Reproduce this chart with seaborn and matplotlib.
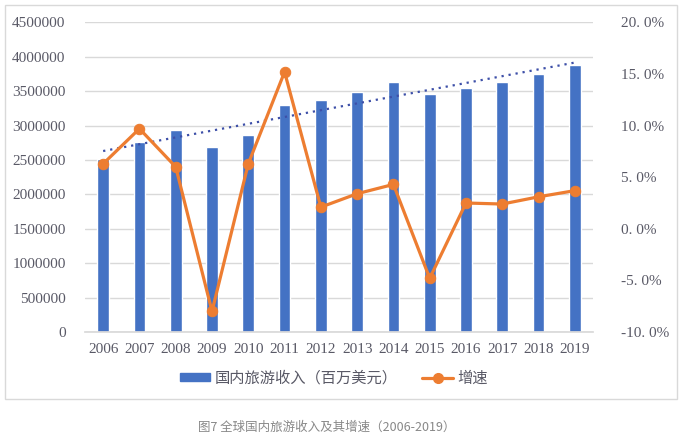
import numpy as np
import pandas as pd
import matplotlib
matplotlib.use("Agg")
import matplotlib.pyplot as plt
from matplotlib.patches import Patch, Rectangle
from matplotlib.lines import Line2D
import matplotlib.ticker as mticker
import seaborn as sns

years = ["2006", "2007", "2008", "2009", "2010", "2011", "2012",
         "2013", "2014", "2015", "2016", "2017", "2018", "2019"]
revenue = [2515000, 2762000, 2932000, 2693000, 2863000, 3299000, 3372000,
           3488000, 3638000, 3459000, 3542000, 3634000, 3746000, 3885000]
growth = [6.3, 9.7, 6.0, -8.0, 6.3, 15.2, 2.1,
          3.4, 4.3, -4.8, 2.5, 2.4, 3.1, 3.7]
left_ticks = [0, 500000, 1000000, 1500000, 2000000, 2500000, 3000000,
              3500000, 4000000, 4500000]
right_ticks = [-10, -5, 0, 5, 10, 15, 20]
bar_label = "国内旅游收入（百万美元）"
line_label = "增速"
caption = "图7 全球国内旅游收入及其增速（2006-2019）"

BLUE = "#4472C4"
ORANGE = "#ED7D31"
TEXT = "#595966"

sns.set_theme(style="white")
plt.rcParams["font.family"] = ["Noto Sans CJK SC", "DejaVu Sans"]

df = pd.DataFrame({"year": years, "revenue": revenue, "growth": growth,
                   "pos": np.arange(len(years))})

fig = plt.figure(figsize=(6.82, 4.41), dpi=100)
fig.patch.set_facecolor("white")
# outer light frame
fig.add_artist(Rectangle((5 / 682, 1 - 399 / 441), 672 / 682, 394 / 441,
                         transform=fig.transFigure, fill=False,
                         edgecolor="#D9D9D9", linewidth=1.0))

ax = fig.add_axes([85 / 682, 1 - 332 / 441, 508 / 682, 309.6 / 441])
sns.barplot(data=df, x="year", y="revenue", color=BLUE, width=0.32,
            saturation=1, ax=ax, zorder=2)
ax.set_xlim(-0.5, len(years) - 0.5)
ax.set_ylim(0, 4500000)
ax.set_yticks(left_ticks)
ax.yaxis.set_major_formatter(mticker.FuncFormatter(lambda v, p: f"{int(v)}"))
ax.grid(axis="y", color="#D9D9D9", linewidth=1.0, zorder=0)
ax.set_axisbelow(True)
ax.set_xlabel("")
ax.set_ylabel("")
for s in ["top", "right", "left"]:
    ax.spines[s].set_visible(False)
ax.spines["bottom"].set_color("#D9D9D9")
ax.tick_params(axis="both", length=0, colors=TEXT)
ax.tick_params(axis="y", pad=14)
ax.tick_params(axis="x", pad=8)
for lab in ax.get_xticklabels() + ax.get_yticklabels():
    lab.set_family("Liberation Serif")
    lab.set_fontsize(11)
    lab.set_color(TEXT)

# linear trendline of revenue
pos = np.arange(len(years))
coef = np.polyfit(pos, revenue, 1)
trend = np.polyval(coef, pos)
ax.plot(pos, trend, linestyle=(0, (1, 2.2)), color="#3D4FA8",
        linewidth=1.6, zorder=3)

ax2 = ax.twinx()
sns.lineplot(data=df, x="pos", y="growth", color=ORANGE, linewidth=2.3,
             marker="o", markersize=7.5, markeredgecolor=ORANGE,
             ax=ax2, zorder=4)
ax2.set_ylim(-10, 20)
ax2.set_yticks(right_ticks)
ax2.yaxis.set_major_formatter(
    mticker.FuncFormatter(lambda v, p: f"{v:.1f}".replace(".", ". ") + "%"))
ax2.set_xlim(-0.5, len(years) - 0.5)
ax2.set_xlabel("")
ax2.set_ylabel("")
for s in ["top", "right", "left", "bottom"]:
    ax2.spines[s].set_visible(False)
ax2.tick_params(axis="y", length=0, colors=TEXT, pad=20)
for lab in ax2.get_yticklabels():
    lab.set_family("Liberation Serif")
    lab.set_fontsize(11)
    lab.set_color(TEXT)
ax2.grid(False)

handles = [Patch(facecolor=BLUE, edgecolor=BLUE),
           Line2D([0], [0], color=ORANGE, linewidth=2.3, marker="o",
                  markersize=7)]
fig.legend(handles, [bar_label, line_label], loc="center",
           bbox_to_anchor=(334 / 682, 1 - 378 / 441), ncol=2, frameon=False,
           fontsize=11, labelcolor=TEXT, handlelength=2.0,
           handleheight=0.45, columnspacing=1.6, handletextpad=0.3)

fig.text(327 / 682, 1 - 427 / 441, caption, ha="center", va="center",
         fontsize=9, color="#888888")

fig.savefig("out.png", dpi=100, facecolor="white")
